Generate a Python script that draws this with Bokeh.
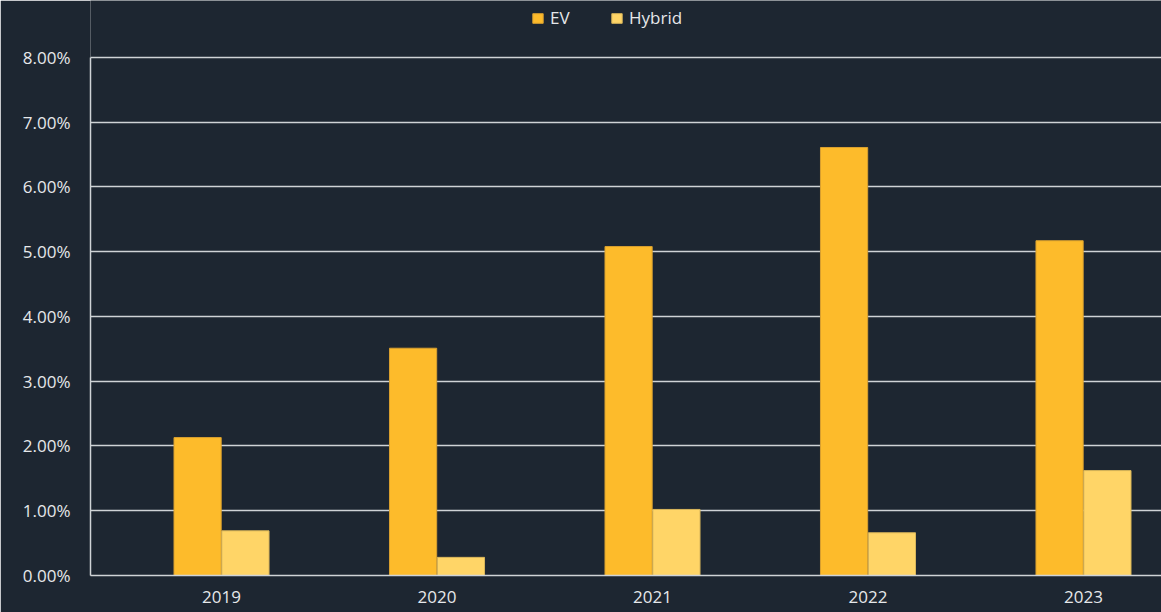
from bokeh.plotting import figure
from bokeh.models import Range1d, ColumnDataSource, Legend, LegendItem, FixedTicker, PrintfTickFormatter
from bokeh.embed import file_html
from bokeh.resources import INLINE

years = ["2019", "2020", "2021", "2022", "2023"]
ev = [2.13, 3.51, 5.08, 6.61, 5.17]
hybrid = [0.69, 0.28, 1.02, 0.66, 1.62]
y_ticks = [0, 1, 2, 3, 4, 5, 6, 7, 8]

BG = "#1d2631"
GRID = "#cfd3d6"
TXT = "#e6e8ea"
EV_C = "#fdbb2b"
HY_C = "#ffd567"
FONT = "Open Sans"

idx = list(range(len(years)))
src = ColumnDataSource(dict(
    x_ev=[i - 0.111 for i in idx],
    x_hy=[i + 0.111 for i in idx],
    ev=ev, hy=hybrid))

p = figure(width=1161, height=612, output_backend="svg", toolbar_location=None,
           x_range=Range1d(-0.608, 4.362), y_range=Range1d(0, 8.88),
           background_fill_color=BG, border_fill_color=BG,
           min_border_left=90, min_border_right=0, min_border_top=0, min_border_bottom=37)
p.outline_line_color = None

r1 = p.vbar(x="x_ev", top="ev", width=0.219, source=src, fill_color=EV_C,
            line_color="#d9a030", line_width=1)
r2 = p.vbar(x="x_hy", top="hy", width=0.219, source=src, fill_color=HY_C,
            line_color="#d8b55a", line_width=1)

p.xgrid.grid_line_color = None
p.ygrid.grid_line_color = GRID
p.ygrid.grid_line_width = 1.5
p.ygrid.level = "underlay"
p.ygrid.bounds = (0, 8)

yax = p.yaxis[0]
xax = p.xaxis[0]
yax.ticker = FixedTicker(ticks=y_ticks)
yax.formatter = PrintfTickFormatter(format="%.2f%%")
yax.bounds = (0.0, 8.0)
xax.ticker = FixedTicker(ticks=idx)
xax.major_label_overrides = {i: y for i, y in enumerate(years)}

for ax in (xax, yax):
    ax.axis_line_color = GRID
    ax.axis_line_width = 1.5
    ax.major_tick_line_color = None
    ax.minor_tick_line_color = None
    ax.major_tick_out = 0
    ax.major_tick_in = 0
    ax.minor_tick_out = 0
    ax.major_label_text_color = TXT
    ax.major_label_text_font = FONT
yax.major_label_text_font_size = "17px"
xax.major_label_text_font_size = "17px"
yax.major_label_standoff = 20
xax.major_label_standoff = 15

legend = Legend(items=[LegendItem(label="EV", renderers=[r1]),
                       LegendItem(label="Hybrid", renderers=[r2])],
                orientation="horizontal", location=(441, 546),
                background_fill_alpha=0, border_line_color=None,
                label_text_color=TXT, label_text_font=FONT, label_text_font_size="17px",
                glyph_width=13, glyph_height=12, spacing=40, padding=6, margin=0,
                label_standoff=6)
p.add_layout(legend, "center")

open("out.html", "w").write(file_html(p, INLINE))
